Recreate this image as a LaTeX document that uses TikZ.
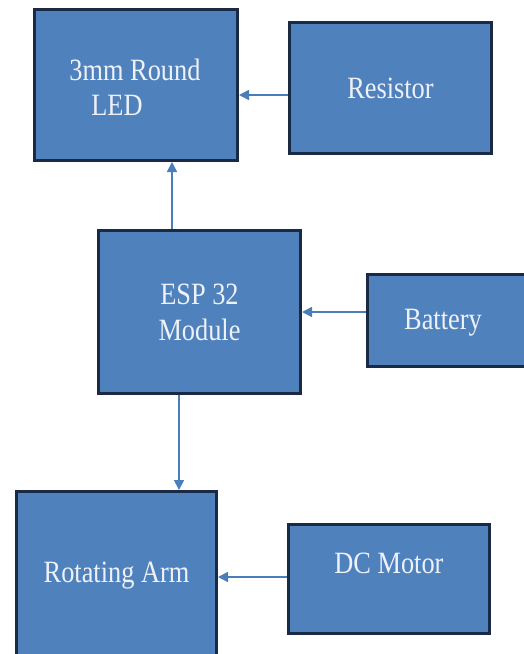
\documentclass[tikz,border=0pt]{standalone}
\usepackage{fontspec}
\setmainfont{Liberation Serif}[FakeStretch=0.85]
\usetikzlibrary{arrows.meta}
\definecolor{boxfill}{HTML}{4F81BD}
\definecolor{boxline}{HTML}{1B2A44}
\definecolor{arrowcol}{HTML}{4A7EBB}
\definecolor{txtcol}{HTML}{EEF2F8}
\tikzset{
  box/.style={rectangle, fill=boxfill, draw=boxline, line width=3pt, inner sep=0pt},
  lbl/.style={text=txtcol, font=\fontsize{31}{36}\selectfont, inner sep=0pt, align=center},
  arr/.style={draw=arrowcol, line width=1.6pt, -{Triangle[length=10pt,width=10pt]}}
}
\begin{document}
\begin{tikzpicture}[x=1pt,y=-1pt]
\useasboundingbox (0,0) rectangle (524,654);
\clip (0,0) rectangle (524,654);
\node[box, minimum width=203pt, minimum height=151pt] (led) at (136,85) {};
\node[lbl] (ledt1) at (135,70) {3mm Round};
\node[lbl] (ledt2) at (117,105) {LED};
\node[box, minimum width=202pt, minimum height=131pt, lbl] (res) at (390.5,88) {Resistor};
\node[box, minimum width=202pt, minimum height=163pt, lbl] (esp) at (199.5,312) {ESP 32\\Module};
\node[box, minimum width=159pt, minimum height=92pt] (bat) at (447,320.5) {};
\node[lbl] (batt) at (443,323) {Battery};
\node[box, minimum width=200pt, minimum height=169pt, lbl] (arm) at (116.5,576) {Rotating Arm};
\node[box, minimum width=201pt, minimum height=109pt] (dcm) at (389,579) {};
\node[lbl] (dcmt) at (389,563) {DC Motor};
\draw[arr] ([yshift=-7pt]res.west) -- ([yshift=-10pt]led.east);
\draw[arr] ([xshift=-27.5pt]esp.north) -- ([xshift=36pt]led.south);
\draw[arr] ([yshift=8.5pt]bat.west) -- (esp.east);
\draw[arr] ([xshift=-20.5pt]esp.south) -- ([xshift=62.5pt]arm.north);
\draw[arr] ([yshift=2pt]dcm.west) -- ([yshift=-1pt]arm.east);
\end{tikzpicture}
\end{document}
